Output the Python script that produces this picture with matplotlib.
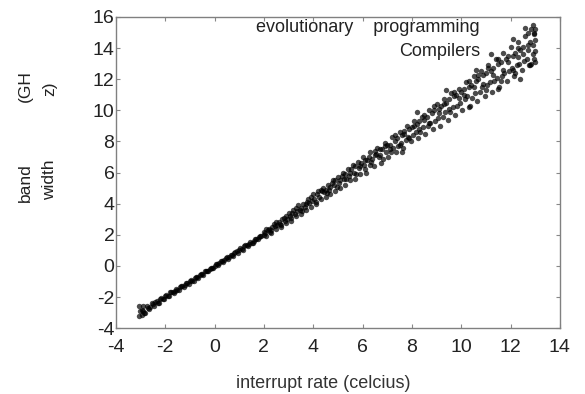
import matplotlib
matplotlib.use("Agg")
import matplotlib.pyplot as plt

plt.rcParams['font.family'] = ['Liberation Sans', 'DejaVu Sans']
plt.rcParams['axes.unicode_minus'] = False

# series (x = interrupt rate, y = band width)
evo_x = [-3.05, -2.95, -2.85, -2.75, -2.65, -2.55, -2.45, -2.35, -2.25, -2.15,
         -2.05, -1.95, -1.85, -1.75, -1.65, -1.55, -1.45, -1.35, -1.25, -1.15,
         -1.05, -0.95, -0.85, -0.75, -0.65, -0.55, -0.45, -0.35, -0.25, -0.15,
         -0.05, 0.05, 0.15, 0.25, 0.35, 0.45, 0.55, 0.65, 0.75, 0.85,
         0.95, 1.05, 1.15, 1.25, 1.35, 1.45, 1.55, 1.65, 1.75, 1.85,
         2.0, 2.1, 2.2, 2.3, 2.4, 2.5, 2.6, 2.7, 2.8, 2.9,
         3.0, 3.1, 3.2, 3.3, 3.4, 3.5, 3.6, 3.7, 3.8, 3.9,
         4.0, 4.1, 4.2, 4.3, 4.4, 4.5, 4.6, 4.7, 4.8, 4.9,
         5.0, 5.1, 5.2, 5.3, 5.4, 5.5, 5.6, 5.7, 5.8, 5.9,
         6.0, 6.15, 6.3, 6.45, 6.6, 6.75, 6.9, 7.05, 7.2, 7.35,
         7.5, 7.65, 7.8, 7.95, 8.1, 8.25, 8.4, 8.55, 8.7, 8.85,
         9.0, 9.15, 9.3, 9.45, 9.6, 9.75, 9.9, 10.05, 10.2, 10.35,
         10.5, 10.65, 10.8, 10.95, 11.1, 11.25, 11.4, 11.55, 11.7, 11.85,
         12.0, 12.15, 12.3, 12.45, 12.6, 12.75, 12.85, 12.95, 13.0,
         2.15, 2.35, 2.55, 2.75, 2.95, 3.15, 3.35, 3.55, 3.75, 3.95,
         4.15, 4.35, 4.55, 4.75, 4.95, 5.15, 5.35, 5.55, 5.75, 5.95,
         6.1, 6.25, 6.4, 6.55, 6.7, 6.85, 7.0, 7.15, 7.3, 7.45,
         7.6, 7.75, 7.9, 8.05, 8.2, 8.35, 8.5, 8.65, 8.8, 8.95,
         9.1, 9.25, 9.4, 9.55, 9.7, 9.85, 10.0, 10.15, 10.3, 10.45,
         10.6, 10.75, 10.9, 11.05, 11.2, 11.35, 11.5, 11.65, 11.8, 11.95,
         12.1, 12.25, 12.4, 12.55, 12.7, 12.85, 12.95, 12.6, 12.3, 13.0,
         -3.0, -2.9, -2.8, -2.6, -2.4, -2.2, -2.0, -1.8, -1.6, -1.4,
         -1.2, -1.0, -0.8, -0.6, -0.4, -0.2, 0.0, 0.2, 0.4, 0.6,
         0.8, 1.0, 1.2, 1.4, 1.6, 1.8, 2.0, -3.05, -2.95]
evo_y = [-3.2, -2.8, -3.0, -2.6, -2.75, -2.4, -2.55, -2.25, -2.4, -2.05,
         -2.15, -1.85, -1.95, -1.7, -1.75, -1.5, -1.55, -1.3, -1.35, -1.1,
         -1.15, -0.9, -0.95, -0.7, -0.75, -0.5, -0.55, -0.3, -0.35, -0.1,
         -0.1, 0.1, 0.05, 0.3, 0.25, 0.5, 0.45, 0.7, 0.65, 0.9,
         0.85, 1.15, 1.05, 1.35, 1.25, 1.55, 1.5, 1.75, 1.7, 1.95,
         2.2, 1.9, 2.4, 2.1, 2.7, 2.35, 2.8, 2.5, 3.1, 2.75,
         3.4, 2.9, 3.6, 3.2, 3.9, 3.35, 4.0, 3.6, 4.3, 3.8,
         4.6, 4.0, 4.8, 4.3, 5.0, 4.4, 5.2, 4.6, 5.5, 4.8,
         5.7, 5.0, 6.0, 5.2, 6.2, 5.5, 6.5, 5.6, 6.7, 5.9,
         7.0, 6.0, 7.3, 6.4, 7.6, 6.6, 7.9, 7.0, 8.3, 7.3,
         8.6, 7.6, 9.0, 8.0, 9.3, 8.2, 9.6, 8.5, 10.0, 8.8,
         10.4, 9.0, 10.7, 9.4, 11.1, 9.7, 11.4, 10.0, 11.8, 10.3,
         12.2, 10.6, 12.5, 10.9, 12.9, 11.2, 13.3, 11.5, 13.7, 11.9,
         14.1, 12.2, 14.4, 12.6, 14.8, 12.9, 15.2, 13.3, 14.5,
         2.3, 2.5, 2.6, 3.0, 3.0, 3.4, 3.5, 3.5, 4.1, 4.2,
         4.6, 4.8, 4.7, 5.3, 5.1, 5.8, 5.6, 6.2, 5.9, 6.6,
         6.2, 7.0, 6.9, 7.2, 7.5, 6.9, 7.8, 7.3, 8.0, 7.7,
         8.4, 8.1, 8.8, 8.4, 9.1, 8.6, 9.4, 9.0, 9.8, 9.3,
         10.1, 9.6, 10.5, 9.9, 10.9, 10.3, 11.2, 10.7, 11.5, 10.8,
         11.9, 11.2, 12.3, 11.6, 12.5, 11.9, 13.0, 12.2, 13.3, 12.5,
         13.5, 12.9, 13.9, 13.2, 14.2, 13.0, 15.0, 15.3, 13.4, 13.8,
         -2.9, -2.6, -3.0, -2.65, -2.3, -2.15, -1.95, -1.7, -1.6, -1.35,
         -1.2, -0.95, -0.8, -0.6, -0.35, -0.2, 0.0, 0.2, 0.4, 0.6,
         0.8, 1.0, 1.25, 1.4, 1.6, 1.85, 2.0, -2.6, -3.15]

comp_x = [-2.9, -2.7, -2.5, -2.3, -2.1, -1.9, -1.7, -1.5, -1.3, -1.1,
          -0.9, -0.7, -0.5, -0.3, -0.1, 0.1, 0.3, 0.5, 0.7, 0.9,
          1.1, 1.3, 1.5, 1.7, 1.9,
          2.05, 2.25, 2.45, 2.65, 2.85, 3.05, 3.25, 3.45, 3.65, 3.85,
          4.05, 4.25, 4.45, 4.65, 4.85, 5.05, 5.25, 5.45, 5.65, 5.85,
          6.05, 6.2, 6.35, 6.5, 6.65, 6.8, 6.95, 7.1, 7.25, 7.4,
          7.55, 7.7, 7.85, 8.0, 8.15, 8.3, 8.45, 8.6, 8.75, 8.9,
          9.05, 9.2, 9.35, 9.5, 9.65, 9.8, 9.95, 10.1, 10.25, 10.4,
          10.55, 10.7, 10.85, 11.0, 11.15, 11.3, 11.45, 11.6, 11.75, 11.9,
          12.05, 12.2, 12.35, 12.5, 12.65, 12.8, 12.9, 13.0, 12.7, 12.9,
          11.2, 11.5, 12.1, 12.4, 12.95, 10.6, 10.3, 9.4, 8.2, 7.6,
          2.1, 2.3, 2.5, 2.7, 2.9, 3.1, 3.3, 3.5, 3.7, 3.9,
          4.1, 4.3, 4.5, 4.7, 4.9, 5.1, 5.3, 5.5, 5.7, 5.9,
          6.1, 6.3, 6.5, 6.7, 6.9, 7.1, 7.3, 7.5, 7.7, 7.9,
          8.1, 8.3, 8.5, 8.7, 8.9, 9.1, 9.3, 9.5, 9.7, 9.9,
          10.1, 10.3, 10.5, 10.7, 10.9, 11.1, 11.3, 11.5, 11.7, 11.9,
          12.1, 12.3, 12.5, 12.7, 12.9, 13.0, 12.8, 12.2, 11.6, 11.0]
comp_y = [-2.9, -2.7, -2.45, -2.35, -2.1, -1.95, -1.7, -1.55, -1.3, -1.1,
          -0.95, -0.7, -0.5, -0.3, -0.1, 0.15, 0.3, 0.55, 0.7, 0.95,
          1.1, 1.35, 1.5, 1.75, 1.9,
          2.1, 2.2, 2.55, 2.7, 2.9, 3.2, 3.35, 3.6, 3.8, 4.05,
          4.3, 4.4, 4.75, 4.9, 5.2, 5.35, 5.6, 5.8, 6.0, 6.3,
          6.5, 6.8, 6.7, 7.1, 7.0, 7.5, 7.3, 7.8, 7.6, 8.2,
          7.9, 8.5, 8.3, 8.9, 8.6, 9.3, 8.9, 9.6, 9.2, 10.0,
          9.5, 10.3, 9.9, 10.7, 10.2, 11.0, 10.5, 11.4, 10.9, 11.6,
          11.1, 12.0, 11.5, 12.4, 11.8, 12.7, 12.1, 13.1, 12.4, 13.5,
          12.7, 13.7, 13.0, 14.1, 13.3, 14.4, 13.6, 13.1, 15.0, 15.5,
          13.6, 11.4, 14.6, 12.0, 14.9, 12.6, 10.2, 11.3, 9.9, 7.3,
          2.4, 2.3, 2.8, 2.65, 3.2, 3.1, 3.7, 3.7, 4.0, 4.4,
          4.1, 4.9, 4.9, 5.1, 5.5, 5.5, 5.9, 6.0, 6.4, 6.4,
          6.8, 6.5, 7.4, 7.1, 7.7, 7.5, 8.4, 7.8, 8.7, 8.2,
          9.0, 8.8, 9.7, 9.2, 10.3, 9.8, 10.4, 10.1, 11.2, 10.8,
          11.0, 11.9, 11.5, 12.3, 11.7, 12.7, 12.3, 13.3, 12.6, 13.1,
          12.6, 14.0, 13.6, 13.9, 14.2, 15.2, 12.9, 12.4, 11.9, 11.3]

x_ticks = [-4, -2, 0, 2, 4, 6, 8, 10, 12, 14]
y_ticks = [-4, -2, 0, 2, 4, 6, 8, 10, 12, 14, 16]

fig = plt.figure(figsize=(5.85, 3.94), dpi=100)
ax = fig.add_axes([0.198, 0.167, 0.759, 0.790])

ax.scatter(evo_x, evo_y, s=15, c='black', marker='o', linewidths=0, alpha=0.7)
ax.scatter(comp_x, comp_y, s=15, c='black', marker='o', linewidths=0, alpha=0.7)

ax.set_xlim(-4, 14)
ax.set_ylim(-4, 16)
ax.set_xticks(x_ticks)
ax.set_yticks(y_ticks)
ax.tick_params(direction='in', length=3, color='#888888', labelsize=14,
               labelcolor='#222222', top=True, right=True)
ax.tick_params(axis='x', pad=8)
ax.tick_params(axis='y', pad=1)
for sp in ax.spines.values():
    sp.set_color('#808080')
    sp.set_linewidth(1.0)

# legend-like labels inside the plot
fig.text(480 / 585, 1 - 28 / 394, 'evolutionary    programming', ha='right',
         va='center', fontsize=13, color='#222222')
fig.text(480 / 585, 1 - 52 / 394, 'Compilers', ha='right', va='center',
         fontsize=13, color='#222222')

# axis titles
fig.text(323 / 585, 1 - 383 / 394, 'interrupt rate (celcius)', ha='center',
         va='center', fontsize=13, color='#333333')
fig.text(25 / 585, 1 - 183 / 394, 'band', rotation=90, ha='center',
         va='center', fontsize=12.5, color='#222222')
fig.text(25 / 585, 1 - 86 / 394, '(GH', rotation=90, ha='center',
         va='center', fontsize=12.5, color='#222222')
fig.text(50 / 585, 1 - 180 / 394, 'width', rotation=90, ha='center',
         va='center', fontsize=12.5, color='#222222')
fig.text(50 / 585, 1 - 89 / 394, 'z)', rotation=90, ha='center',
         va='center', fontsize=12.5, color='#222222')

fig.savefig('out.png', dpi=100)
